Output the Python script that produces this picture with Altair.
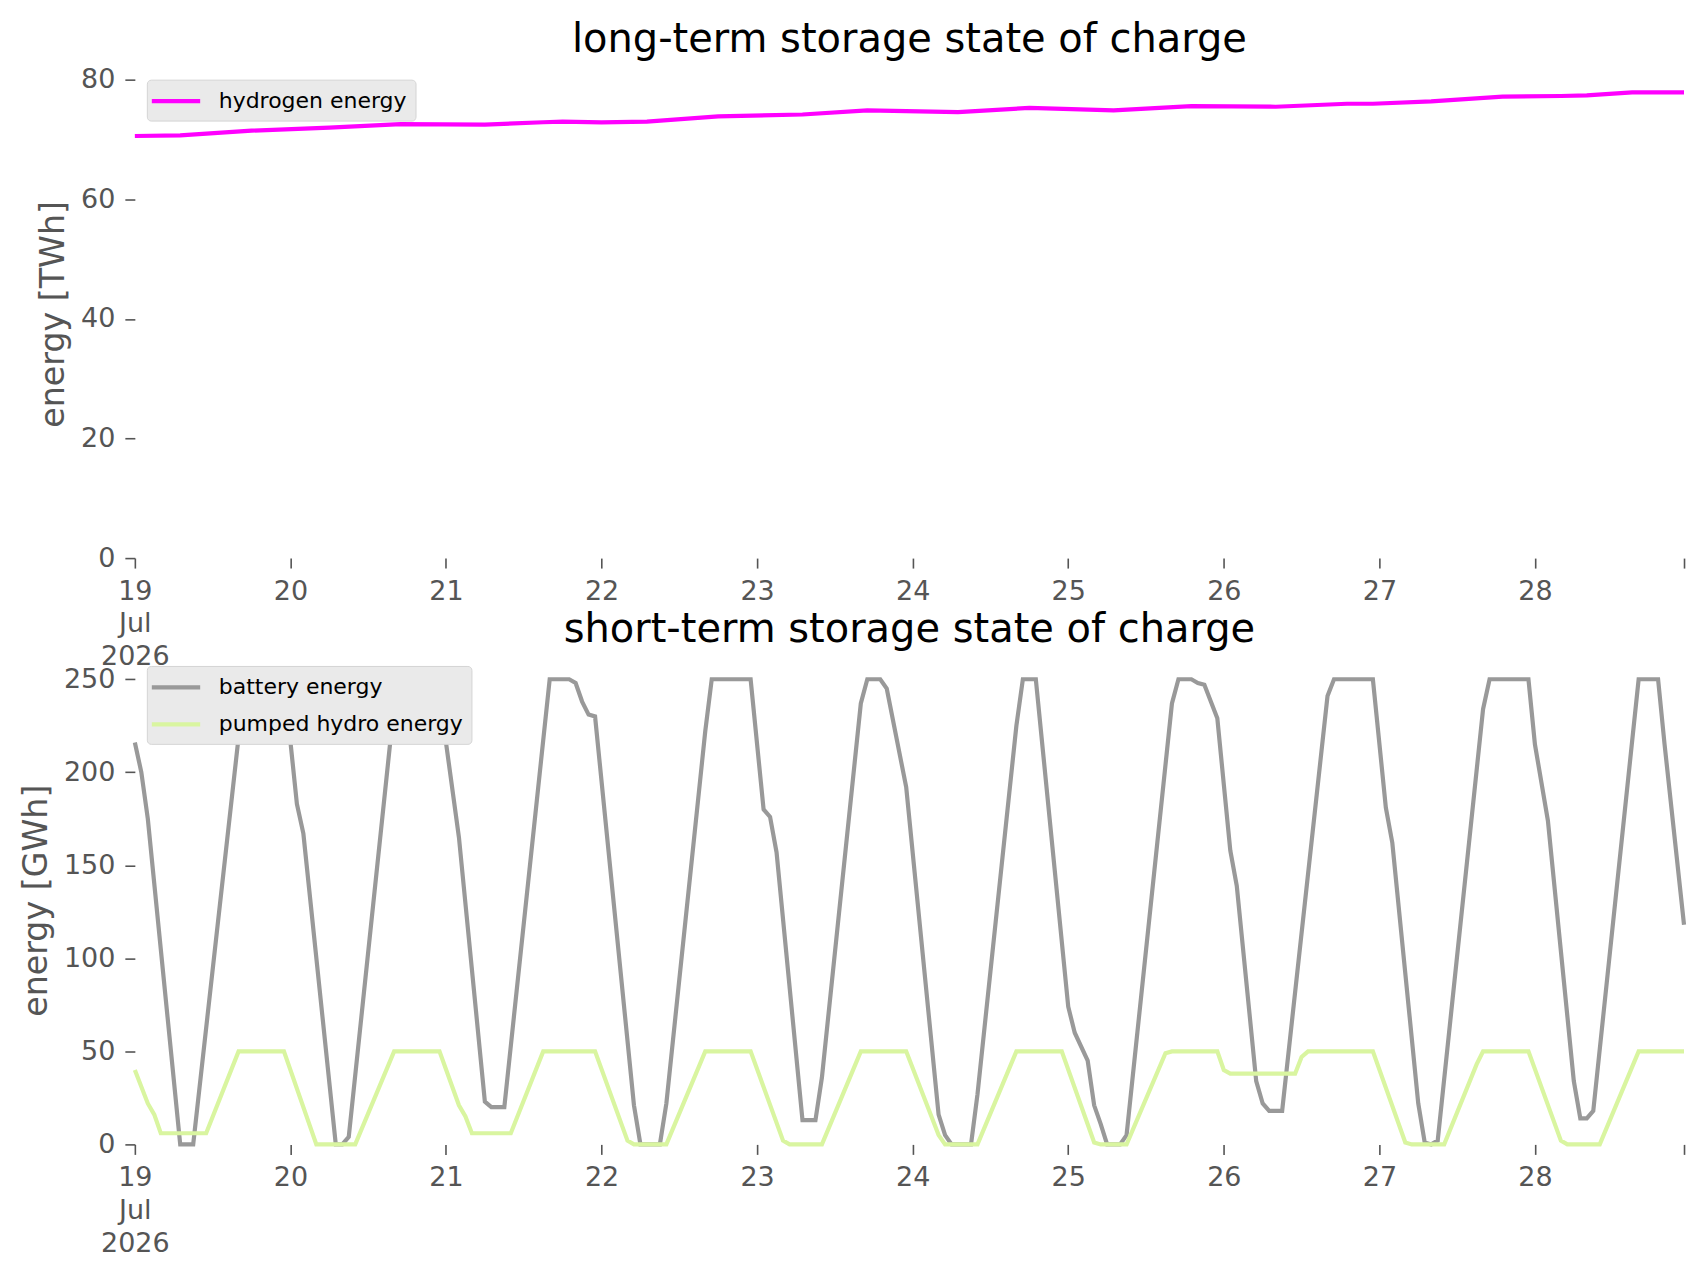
import altair as alt
import pandas as pd

# hours after 2026-07-19 00:00 (vertices of each line)
hydrogen_hour = [0, 7, 18, 30, 41, 54, 63, 66, 72, 79, 90, 103, 113, 127, 138,
                 151, 163, 176, 187, 191, 200, 211, 220, 224, 231, 239]
hydrogen_twh = [70.6, 70.7, 71.5, 72.0, 72.6, 72.5, 72.9, 73.0, 72.9, 73.0, 73.9,
                74.2, 74.9, 74.6, 75.3, 74.9, 75.6, 75.5, 76.0, 76.0, 76.4, 77.2,
                77.3, 77.4, 77.9, 77.9]

battery_hour = [0, 1, 2, 7, 9, 17, 23, 25, 26, 31, 32, 33, 40, 41, 47, 48, 50, 54,
                55, 57, 64, 67, 68, 69, 70, 71, 77, 78, 81, 82, 88, 89, 95, 97, 98,
                99, 103, 105, 106, 112, 113, 115, 116, 119, 124, 125, 126, 129, 130,
                136, 137, 139, 144, 145, 147, 148, 149, 150, 152, 153, 160, 161, 163,
                164, 165, 166, 167, 169, 170, 173, 174, 175, 177, 184, 185, 191, 193,
                194, 198, 199, 200, 201, 208, 209, 215, 216, 218, 222, 223, 224, 225,
                232, 235, 236, 239]
battery_gwh = [216, 200, 175, 0, 0, 250, 250, 183, 167, 0, 0, 4, 236, 250, 250, 216,
               165, 23, 20, 20, 250, 250, 248, 238, 231, 230, 21, 0, 0, 22, 222, 250,
               250, 180, 176, 157, 13, 13, 36, 237, 250, 250, 245, 192, 16, 5, 0, 0,
               27, 225, 250, 250, 74, 60, 45, 21, 11, 0, 0, 5, 237, 250, 250, 248,
               247, 238, 229, 158, 139, 34, 22, 18, 18, 241, 250, 250, 181, 162, 22,
               1, 0, 2, 234, 250, 250, 215, 174, 34, 14, 14, 18, 250, 250, 215, 118]

hydro_hour = [0, 2, 3, 4, 11, 16, 23, 28, 34, 40, 47, 50, 51, 52, 58, 63, 71, 76, 77,
              82, 88, 95, 100, 101, 106, 112, 119, 124, 125, 130, 136, 143, 148, 149,
              153, 159, 160, 167, 168, 169, 179, 180, 181, 191, 196, 197, 202, 207,
              208, 215, 220, 221, 226, 232, 239]
hydro_gwh = [40, 22, 16, 6, 6, 50, 50, 0, 0, 50, 50, 21, 15, 6, 6, 50, 50, 2, 0, 0,
             50, 50, 2, 0, 0, 50, 50, 5, 0, 0, 50, 50, 1, 0, 0, 49, 50, 50, 40, 38,
             38, 47, 50, 50, 1, 0, 0, 43, 50, 50, 2, 0, 0, 50, 50]

day_ticks = [0, 24, 48, 72, 96, 120, 144, 168, 192, 216, 239]

long_df = pd.DataFrame({'hour': hydrogen_hour, 'energy': hydrogen_twh,
                        'series': 'hydrogen energy'})
short_df = pd.concat([
    pd.DataFrame({'hour': battery_hour, 'energy': battery_gwh, 'series': 'battery energy'}),
    pd.DataFrame({'hour': hydro_hour, 'energy': hydro_gwh, 'series': 'pumped hydro energy'}),
])

x_axis = alt.Axis(
    values=day_ticks, title=None, labelAngle=0, labelLineHeight=33, labelFlush=False,
    labelExpr="datum.value == 0 ? ['19', 'Jul', '2026'] : datum.value == 239 ? '' : format(19 + datum.value / 24, 'd')",
)
x_enc = alt.X('hour:Q', scale=alt.Scale(domain=[0, 239], nice=False, zero=False), axis=x_axis)

legend = alt.Legend(title=None, orient='none', legendX=12, legendY=10)

top = alt.Chart(long_df).mark_line(strokeWidth=4.2).encode(
    x=x_enc,
    y=alt.Y('energy:Q', scale=alt.Scale(domain=[0, 81.7], nice=False),
            axis=alt.Axis(values=[0, 20, 40, 60, 80], title='energy [TWh]')),
    color=alt.Color('series:N', scale=alt.Scale(domain=['hydrogen energy'], range=['#ff00ff']),
                    legend=legend),
).properties(width=1551, height=489, title='long-term storage state of charge')

bottom = alt.Chart(short_df).mark_line(strokeWidth=4.2).encode(
    x=x_enc,
    y=alt.Y('energy:Q', scale=alt.Scale(domain=[0, 262.5], nice=False),
            axis=alt.Axis(values=[0, 50, 100, 150, 200, 250], title='energy [GWh]')),
    color=alt.Color('series:N',
                    scale=alt.Scale(domain=['battery energy', 'pumped hydro energy'],
                                    range=['#999999', '#d9f5a0']),
                    legend=legend),
).properties(width=1551, height=489, title='short-term storage state of charge')

chart = alt.vconcat(top, bottom, spacing=98, bounds='flush').resolve_scale(
    color='independent'
).resolve_legend(color='independent').properties(
    padding={'left': 11, 'top': 11, 'right': 5, 'bottom': 5}
).configure_view(stroke=None).configure_axis(
    domain=False, grid=False, tickColor='#555555', tickSize=10, tickWidth=1.6,
    labelColor='#555555', labelFontSize=27, labelFont='DejaVu Sans', labelPadding=10,
    titleFont='DejaVu Sans', titleFontSize=33.3, titleColor='#555555',
    titleFontWeight='normal', titlePadding=10,
).configure_legend(
    fillColor='#EAEAEA', strokeColor='#D4D4D4', cornerRadius=4, padding=8,
    labelFont='DejaVu Sans', labelFontSize=22, labelColor='black', labelOffset=37,
    labelLimit=500, symbolType='M-1.5,0H2.9', symbolStrokeWidth=4.2, symbolSize=484,
    rowPadding=12,
).configure_title(
    font='DejaVu Sans', fontSize=40, color='black', fontWeight='normal',
    anchor='middle', baseline='alphabetic', offset=6,
)

chart.save("out.html", embed_options={"renderer": "svg", "actions": False})
